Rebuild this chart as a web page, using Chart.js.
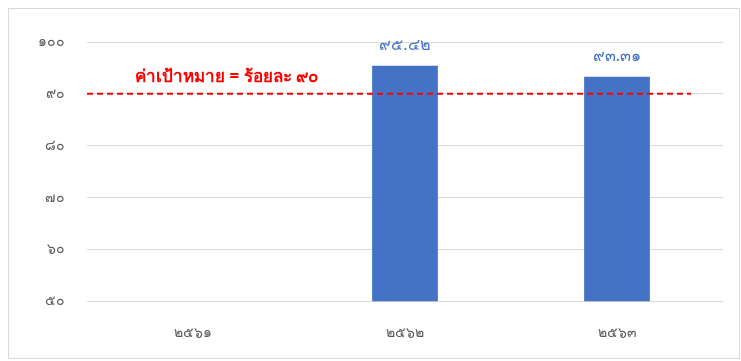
<!DOCTYPE html>
<html>
<head>
<meta charset="utf-8">
<script src="https://cdn.jsdelivr.net/npm/chart.js@4.4.1/dist/chart.umd.min.js"></script>
<style>
  html, body { margin: 0; padding: 0; background: #fff; }
  #wrap { position: relative; width: 741px; height: 361px; }
</style>
</head>
<body>
<div id="wrap"><canvas id="targetChart"></canvas></div>
<script>
// Chart data
var years = ["๒๕๖๑", "๒๕๖๒", "๒๕๖๓"];
var percents = [null, 95.42, 93.31];
var targetValue = 90;
var targetText = "ค่าเป้าหมาย = ร้อยละ ";

// Arabic -> Thai digits
function thaiDigits(v) {
    var d = "๐๑๒๓๔๕๖๗๘๙";
    return String(v).replace(/[0-9]/g, function (c) { return d[+c]; });
}

// Frame, target line and value labels
var extras = {
    id: "extras",
    beforeDraw: function (chart) {
        var c = chart.ctx;
        c.save();
        c.strokeStyle = "#d9d9d9";
        c.lineWidth = 1;
        c.strokeRect(8.5, 8.5, chart.width - 10, chart.height - 11);
        c.restore();
    },
    afterDatasetsDraw: function (chart) {
        var c = chart.ctx;
        var area = chart.chartArea;
        var y = chart.scales.y.getPixelForValue(targetValue);
        c.save();
        c.strokeStyle = "#ff0000";
        c.lineWidth = 2;
        c.setLineDash([6, 4]);
        c.beginPath();
        c.moveTo(area.left, y);
        c.lineTo(area.right - 32, y);
        c.stroke();
        c.setLineDash([]);

        c.fillStyle = "#ff0000";
        c.font = "bold 17px 'Noto Sans', sans-serif";
        c.textAlign = "left";
        c.textBaseline = "bottom";
        c.fillText(targetText + thaiDigits(targetValue), area.left + 48, y - 8);

        var meta = chart.getDatasetMeta(0);
        c.fillStyle = "#4472c4";
        c.font = "16px 'Noto Sans', sans-serif";
        c.textAlign = "center";
        meta.data.forEach(function (bar, i) {
            if (percents[i] == null) return;
            c.fillText(thaiDigits(percents[i].toFixed(2)), bar.x, bar.y - 12);
        });
        c.restore();
    }
};

var ctx = document.getElementById("targetChart");

var config = {
    type: "bar",
    data: {
        labels: years,
        datasets: [{
            data: percents,
            backgroundColor: "#4472c4",
            barPercentage: 0.31,
            categoryPercentage: 1
        }]
    },
    options: {
        responsive: true,
        maintainAspectRatio: false,
        animation: false,
        layout: { padding: { left: 16, right: 18, top: 42, bottom: 5 } },
        plugins: {
            legend: { display: false },
            tooltip: { enabled: false }
        },
        scales: {
            x: {
                grid: { display: false },
                border: { display: false },
                ticks: {
                    color: "#595959",
                    font: { size: 14, family: "'Noto Sans', sans-serif" },
                    padding: 15
                }
            },
            y: {
                min: 50,
                max: 100,
                grid: { color: "#d9d9d9", drawTicks: false },
                border: { display: false },
                ticks: {
                    stepSize: 10,
                    color: "#595959",
                    padding: 22,
                    font: { size: 14, family: "'Noto Sans', sans-serif" },
                    callback: function (v) { return thaiDigits(v); }
                }
            }
        }
    },
    plugins: [extras]
};

var chart = new Chart(ctx, config);
</script>
</body>
</html>
